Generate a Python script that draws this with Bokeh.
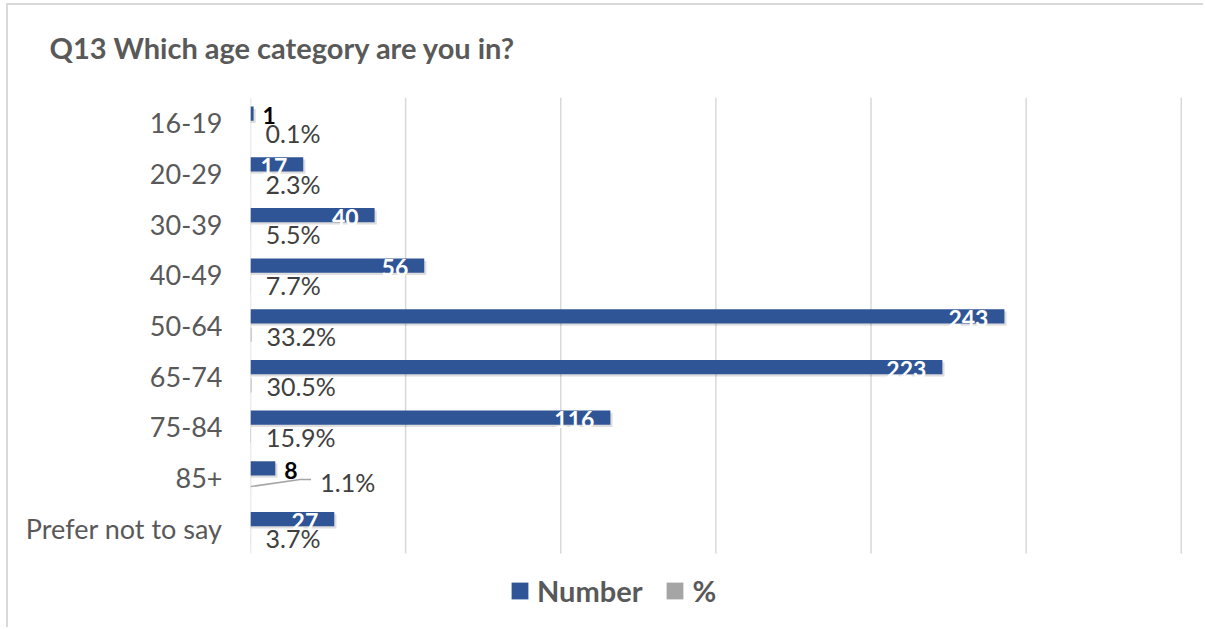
from bokeh.plotting import figure
from bokeh.models import (ColumnDataSource, FixedTicker, Range1d, Legend, LegendItem, Title)
from bokeh.core.properties import value
from bokeh.embed import file_html
from bokeh.resources import INLINE

categories = ["16-19", "20-29", "30-39", "40-49", "50-64", "65-74", "75-84", "85+", "Prefer not to say"]
numbers = [1, 17, 40, 56, 243, 223, 116, 8, 27]
percents = [0.1, 2.3, 5.5, 7.7, 33.2, 30.5, 15.9, 1.1, 3.7]
x_ticks = [0, 50, 100, 150, 200, 250, 300]

FONT = "Lato"
BLUE = "#2f5597"
GREY = "#a5a5a5"
TXT = "#595959"

n = len(categories)
ys = [n - 0.5 - i for i in range(n)]
pct_frac = [v / 100 for v in percents]

OFF = 0.18
H = 0.28

# layout (figure pixel coords)
FIG_W, FIG_H = 1197, 624
TOP, LEFT, RIGHT, BOTTOM = 92, 242, 23, 4
ROWS_PX = 456.0                      # height taken by the category rows
frame_h = FIG_H - TOP - BOTTOM
extra = (frame_h - ROWS_PX) / (ROWS_PX / n)

p = figure(width=FIG_W, height=FIG_H, output_backend="svg", toolbar_location=None,
           x_range=Range1d(0, 300.4), y_range=Range1d(-extra, n),
           min_border_left=LEFT, min_border_right=RIGHT, min_border_top=TOP, min_border_bottom=BOTTOM)
p.outline_line_color = None
p.background_fill_color = "white"
p.border_fill_color = "white"
p.styles = {"margin-left": "6px", "margin-top": "3px",
            "border-left": "2px solid #d9d9d9", "border-top": "2px solid #d9d9d9"}

# grid drawn only over the category rows
p.xaxis.visible = False
p.xgrid.visible = False
p.ygrid.visible = False
p.segment(x0=x_ticks, y0=[0] * len(x_ticks), x1=x_ticks, y1=[n] * len(x_ticks),
          line_color="#d9d9d9", line_width=1.5)

# y axis
yax = p.yaxis[0]
yax.ticker = FixedTicker(ticks=ys)
yax.major_label_overrides = {y: c for y, c in zip(ys, categories)}
yax.axis_line_color = None
yax.major_tick_line_color = None
yax.minor_tick_line_color = None
yax.major_label_text_font = FONT
yax.major_label_text_font_size = "27px"
yax.major_label_text_color = TXT
yax.major_label_standoff = 22

src = ColumnDataSource(dict(
    cat=categories, y=ys,
    yn=[y + OFF for y in ys], yp=[y - OFF for y in ys],
    ys=[y + OFF - 0.045 for y in ys],
    num=numbers, nums=[v + 0.7 for v in numbers],
    pct=pct_frac,
))

# shadows
p.hbar(y="ys", left=0, right="nums", height=H, source=src, fill_color="black",
       fill_alpha=0.13, line_color=None)
rn = p.hbar(y="yn", left=0, right="num", height=H, source=src, fill_color=BLUE, line_color=None)
rp = p.hbar(y="yp", left=0, right="pct", height=H, source=src, fill_color=GREY, line_color=None)

# number labels
inside = [i for i, v in enumerate(numbers) if v >= 10]
outside = [i for i, v in enumerate(numbers) if v < 10]
src_in = ColumnDataSource(dict(x=[numbers[i] for i in inside], y=[ys[i] + OFF for i in inside],
                               t=[str(numbers[i]) for i in inside]))
src_out = ColumnDataSource(dict(x=[numbers[i] for i in outside], y=[ys[i] + OFF for i in outside],
                                t=[str(numbers[i]) for i in outside]))
p.text(x="x", y="y", text="t", source=src_in, x_offset=-16, y_offset=2, text_align="right",
       text_baseline="middle", text_color="white", text_font=value(FONT),
       text_font_style="bold", text_font_size="23px")
p.text(x="x", y="y", text="t", source=src_out, x_offset=9, y_offset=2, text_align="left",
       text_baseline="middle", text_color="black", text_font=value(FONT),
       text_font_style="bold", text_font_size="23px")

# percent labels (85+ moved out with a leader line)
moved = categories.index("85+")
px, py, pt = [], [], []
for i in range(n):
    if i == moved:
        continue
    px.append(pct_frac[i]); py.append(ys[i] - OFF - 0.02); pt.append(f"{percents[i]:.1f}%")
p.text(x=px, y=py, text=pt, x_offset=15, text_align="left", text_baseline="middle",
       text_color="#404040", text_font=value(FONT), text_font_size="25px")

lab_x = pct_frac[moved] + 22.5
lab_y = ys[moved] - 0.09
p.text(x=[lab_x], y=[lab_y], text=[f"{percents[moved]:.1f}%"], text_align="left",
       text_baseline="middle", text_color="#404040", text_font=value(FONT), text_font_size="25px")
p.line(x=[pct_frac[moved], lab_x - 6.5, lab_x - 3], y=[ys[moved] - OFF, ys[moved] - 0.04, ys[moved] - 0.04],
       line_color=GREY, line_width=1.5)

# spacer between frame and title, then the title itself
spacer = Title(text=" ", text_font_size="1px", standoff=30)
p.add_layout(spacer, "above")
t = Title(text="Q13 Which age category are you in?", align="left", offset=-201,
          text_font=FONT, text_font_size="29px", text_font_style="bold", text_color=TXT,
          standoff=0)
p.add_layout(t, "above")

legend = Legend(items=[LegendItem(label="Number", renderers=[rn]), LegendItem(label="%", renderers=[rp])],
                orientation="horizontal", location=(259, 17), glyph_width=21, glyph_height=21,
                label_standoff=7, spacing=22, padding=0, margin=0,
                label_text_font=FONT, label_text_font_size="29px", label_text_font_style="bold",
                label_text_color=TXT, border_line_color=None, background_fill_alpha=0)
p.add_layout(legend, "center")

open("out.html", "w").write(file_html(p, INLINE))
